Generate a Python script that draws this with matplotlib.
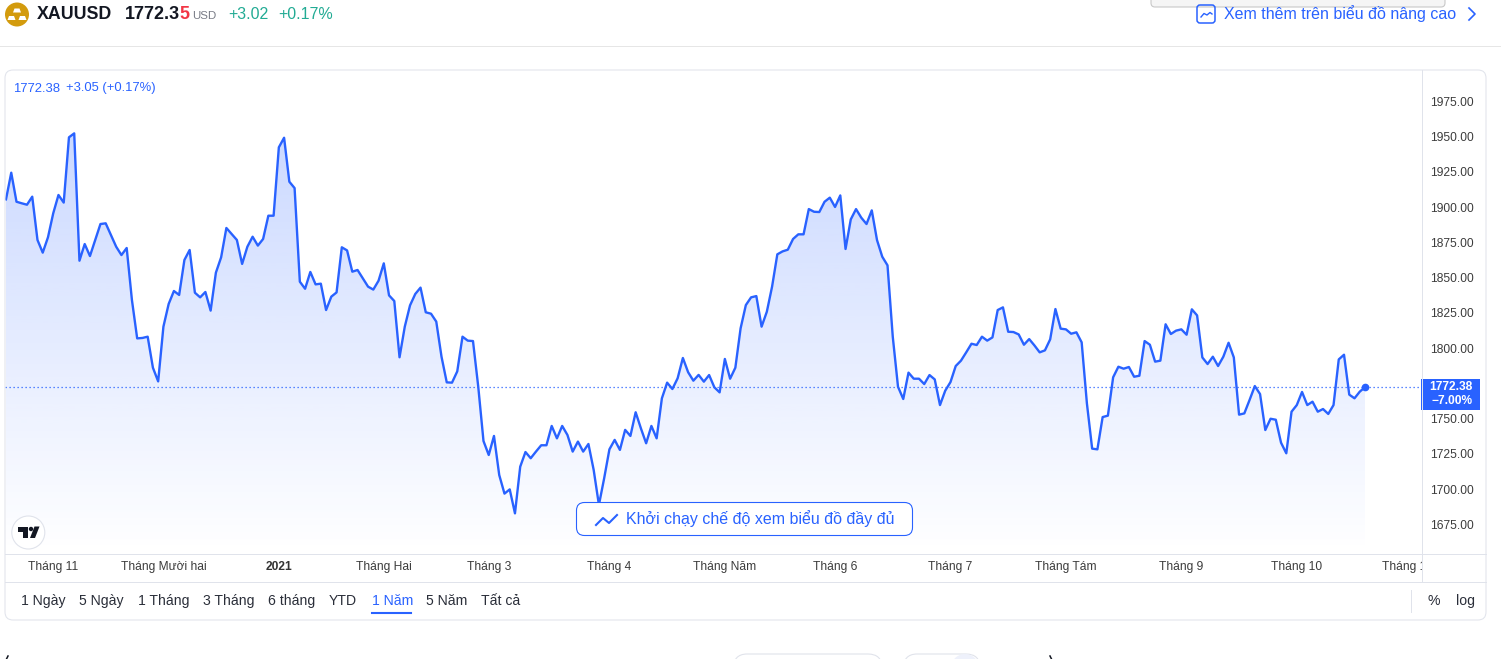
import numpy as np
import matplotlib
matplotlib.use('Agg')
import matplotlib.pyplot as plt
from matplotlib.patches import Circle, FancyBboxPatch, Polygon, Rectangle

plt.rcParams['font.family'] = ['Liberation Sans', 'DejaVu Sans']

# Daily closes of XAUUSD
prices_1 = [1905.6, 1924.5, 1903.9, 1902.8, 1901.8, 1907.5, 1876.8, 1867.8, 1878.7, 1895.7, 1908.7, 1903.3,
            1949.6, 1952.4, 1862.1, 1873.9, 1865.4, 1876.8, 1888.1, 1888.6, 1880.3, 1872.0, 1866.1, 1871.1,
            1834.2, 1807.0, 1807.3, 1808.2, 1786.2, 1776.5, 1815.3, 1831.4, 1840.6, 1837.8, 1862.6, 1869.7,
            1839.4, 1836.1, 1839.9, 1826.7, 1853.6, 1864.5, 1885.3, 1881.0, 1876.8, 1859.8, 1872.0, 1879.1,
            1872.8, 1877.5, 1894.0, 1894.0, 1942.5, 1949.3, 1918.1, 1913.6, 1847.2, 1842.2, 1854.1, 1845.3,
            1845.8, 1827.1, 1836.6, 1839.6, 1871.6, 1869.4]
prices_2 = [1854.3, 1855.5, 1849.6, 1843.7, 1841.6, 1847.9, 1860.2, 1837.5, 1833.5, 1793.6, 1815.3, 1830.4,
            1838.5, 1843.0, 1825.5, 1824.5, 1818.9, 1794.0, 1775.8, 1775.6, 1783.6, 1808.2, 1805.4, 1805.1,
            1772.8, 1734.2, 1724.3, 1737.8, 1710.1, 1696.9, 1699.9, 1682.9, 1716.0, 1726.4, 1722.0, 1726.7,
            1731.2, 1731.2, 1744.9, 1736.1, 1744.9, 1738.5, 1726.7, 1733.8, 1726.7, 1732.1, 1713.7, 1688.9,
            1707.8, 1728.3, 1735.0, 1727.9, 1742.1, 1737.8, 1754.6, 1743.2, 1732.6, 1744.9, 1736.1, 1764.5,
            1775.6, 1771.1, 1778.7, 1793.1, 1783.0, 1777.0, 1781.1]
prices_3 = [1776.3, 1781.0, 1772.3, 1768.7, 1792.4, 1778.4, 1786.2, 1814.1, 1830.6, 1836.1, 1837.0, 1815.3,
            1825.9, 1843.7, 1866.6, 1868.7, 1869.9, 1877.5, 1880.8, 1880.8, 1898.7, 1896.8, 1896.6, 1903.9,
            1906.8, 1900.2, 1908.4, 1870.4, 1891.4, 1898.7, 1892.6, 1888.1, 1897.8, 1876.7, 1864.9, 1858.8,
            1808.2, 1772.7, 1764.0, 1782.7, 1778.4, 1778.4, 1774.6, 1781.0, 1777.9, 1759.7, 1769.9, 1776.0,
            1787.4, 1791.2, 1797.1, 1803.2, 1802.3, 1808.2, 1805.4, 1807.7, 1827.1, 1829.0, 1811.7, 1811.5,
            1809.8, 1802.5, 1806.5, 1802.0, 1797.1, 1798.5, 1806.3]
prices_4 = [1827.8, 1813.9, 1813.4, 1810.3, 1811.3, 1804.2, 1760.9, 1728.8, 1728.3, 1751.2, 1752.2, 1779.4,
            1786.9, 1785.5, 1786.7, 1779.8, 1780.5, 1805.1, 1802.5, 1790.5, 1791.2, 1817.0, 1810.1, 1812.5,
            1813.4, 1809.6, 1827.6, 1823.3, 1793.5, 1788.8, 1794.0, 1787.4, 1794.0, 1803.9, 1793.5, 1752.9,
            1753.8, 1763.3, 1773.2, 1767.5, 1742.0, 1750.0, 1749.3, 1733.0, 1725.5, 1755.0, 1759.7, 1769.0,
            1759.7, 1762.1, 1755.0, 1756.9, 1753.4, 1759.7, 1792.1, 1795.4, 1767.1, 1764.5, 1769.2, 1772.38]
prices = np.array(prices_1 + prices_2 + prices_3 + prices_4)
days = np.arange(len(prices))

price_ticks = [1975, 1950, 1925, 1900, 1875, 1850, 1825, 1800, 1750, 1725, 1700, 1675]
month_days = [9, 30, 52, 72, 92, 115, 137, 158, 180, 202, 224, 246, 267]
month_labels = ['Tháng 11', 'Tháng Mười hai', '2021', 'Tháng Hai', 'Tháng 3', 'Tháng 4', 'Tháng Năm',
                'Tháng 6', 'Tháng 7', 'Tháng Tám', 'Tháng 9', 'Tháng 10', 'Tháng 11']
range_labels = ['1 Ngày', '5 Ngày', '1 Tháng', '3 Tháng', '6 tháng', 'YTD', '1 Năm', '5 Năm', 'Tất cả']
range_x = [21, 79, 138, 203, 268, 329, 372, 426, 481]

BLUE = '#2962ff'
BORDER = '#e0e3eb'
W, H = 1501, 659


def px(size):
    # font size from css pixels
    return size * 0.72


fig = plt.figure(figsize=(W / 100, H / 100), dpi=100, facecolor='white')

# Chart area
ax = fig.add_axes([5 / W, (H - 553) / H, 1416 / W, 483 / H])
step = (1365 - 6) / (len(prices) - 1)
y_top = 1975 + (101.5 - 70) / 1.41
y_bot = 1975 - (553 - 101.5) / 1.41
poly = ax.fill_between(days, prices, y_bot, facecolor='none', edgecolor='none')
gradient = np.zeros((256, 1, 4))
gradient[:, 0, :3] = matplotlib.colors.to_rgb(BLUE)
gradient[:, 0, 3] = np.linspace(0.25, 0, 256)
im = ax.imshow(gradient, extent=[0, days[-1], y_bot, 1960], aspect='auto', interpolation='bilinear', zorder=1)
im.set_clip_path(poly.get_paths()[0], transform=ax.transData)
ax.axhline(prices[-1], color=BLUE, lw=0.9, ls=(0, (1, 2.2)), zorder=2)
ax.plot(days, prices, color=BLUE, lw=1.7, zorder=3, solid_joinstyle='round')
ax.plot(days[-1], prices[-1], 'o', color=BLUE, ms=4.5, zorder=4)
ax.set_xlim(-1 / step, (1421 - 6) / step)
ax.set_ylim(y_bot, y_top)

ax.yaxis.tick_right()
ax.set_yticks(price_ticks)
ax.set_yticklabels([f'{p:.2f}' for p in price_ticks])
ax.tick_params(axis='y', length=0, pad=6.8, labelsize=px(12), labelcolor='#3c3c3c')
ax.set_xticks(month_days)
ax.set_xticklabels(month_labels)
ax.tick_params(axis='x', length=0, pad=5.5, labelsize=px(12), labelcolor='#3c3c3c')
ax.get_xticklabels()[2].set_fontweight('bold')
ax.get_xticklabels()[2].set_color('#333333')
for side in ax.spines:
    ax.spines[side].set_visible(False)

# Page furniture, in pixel coordinates
ui = fig.add_axes([0, 0, 1, 1], facecolor='none')
ui.set_xlim(0, W)
ui.set_ylim(H, 0)
ui.axis('off')

ui.add_patch(Rectangle((1421.5, 554), 60, 27, fc='white', ec='none'))
ui.add_patch(FancyBboxPatch((5, 70), 1481, 550, boxstyle='round,pad=0,rounding_size=8', fc='none', ec=BORDER, lw=0.72))
ui.plot([0, W], [45.5, 45.5], color='#e6e6e6', lw=0.72)
ui.plot([5, 1486], [553.5, 553.5], color=BORDER, lw=0.72)
ui.plot([5, 1486], [581.5, 581.5], color=BORDER, lw=0.72)
ui.plot([1421.5, 1421.5], [70, 581], color=BORDER, lw=0.72)
ui.plot([1410.5, 1410.5], [590, 612], color=BORDER, lw=0.72)

# Popup cut by the top edge
ui.add_patch(FancyBboxPatch((1151, -20), 294, 27, boxstyle='round,pad=0,rounding_size=4', fc='#f5f5f5', ec='#c8c8c8', lw=0.8))

# Header
ui.add_patch(Circle((17, 14.5), 12, fc='#d39b0d', ec='none'))
for bar_x, bar_y in [(17, 10.5), (11.5, 18), (22.5, 18)]:
    ui.add_patch(Polygon([(bar_x - 2.5, bar_y - 2), (bar_x + 2.5, bar_y - 2), (bar_x + 4, bar_y + 2), (bar_x - 4, bar_y + 2)],
                         fc='white', ec='none'))
ui.text(37, 14.5, 'XAUUSD', fontsize=px(17.8), fontweight='bold', color='#131722', va='center')
ui.text(125, 14.5, '1772.3', fontsize=px(18), fontweight='bold', color='#131722', va='center')
ui.text(179.5, 14.5, '5', fontsize=px(18), fontweight='bold', color='#f23645', va='center')
ui.text(192, 16, 'USD', fontsize=px(11.5), color='#787b86', va='center')
ui.text(228, 14.5, '+3.02', fontsize=px(16), color='#22ab94', va='center')
ui.text(278, 14.5, '+0.17%', fontsize=px(16), color='#22ab94', va='center')

ui.add_patch(FancyBboxPatch((1197, 5), 18, 18, boxstyle='round,pad=0,rounding_size=3', fc='none', ec=BLUE, lw=1.1))
ui.plot([1201, 1204, 1207, 1210, 1212], [17, 13.5, 15, 12.5, 14], color=BLUE, lw=1)
ui.text(1224, 13.5, 'Xem thêm trên biểu đồ nâng cao', fontsize=px(16), color=BLUE, va='center')
ui.plot([1469, 1475, 1469], [8, 14, 20], color=BLUE, lw=1.2)

ui.text(13, 88.5, '1772.38', fontsize=px(13), color=BLUE, va='center')
ui.text(66, 88.5, '+3.05 (+0.17%)', fontsize=px(13), color=BLUE, va='center')

# Last price tag
ui.add_patch(Rectangle((1421, 379), 59, 31, fc=BLUE, ec='none'))
ui.text(1473, 387.5, '1772.38', fontsize=px(12), fontweight='bold', color='white', ha='right', va='center')
ui.text(1431, 401.5, '−7.00%', fontsize=px(12), fontweight='bold', color='white', ha='left', va='center')

# Launch button
ui.add_patch(FancyBboxPatch((576.5, 502.5), 336, 33, boxstyle='round,pad=0,rounding_size=8', fc='white', ec=BLUE, lw=0.8))
ui.plot([596, 603, 609, 617], [525, 518, 523, 515], color=BLUE, lw=1.5)
ui.text(626, 518.5, 'Khởi chạy chế độ xem biểu đồ đầy đủ', fontsize=px(16), color=BLUE, va='center')

# TradingView badge
ui.add_patch(Circle((28.3, 532.5), 16.5, fc='white', ec=BORDER, lw=0.8))
ui.add_patch(Polygon([(18, 526.5), (28, 526.5), (28, 538), (23, 538), (23, 531.5), (18, 531.5)], fc='#131722', ec='none'))
ui.add_patch(Polygon([(30, 538), (34.5, 526.5), (39.5, 526.5), (35, 538)], fc='#131722', ec='none'))
ui.add_patch(Circle((31, 529), 2.2, fc='#131722', ec='none'))

# Range selector
for label, x in zip(range_labels, range_x):
    ui.text(x, 601, label, fontsize=px(14), color=BLUE if label == '1 Năm' else '#2a2e39', va='center')
ui.plot([372, 411], [612.5, 612.5], color=BLUE, lw=1.5)
ui.text(1428, 601, '%', fontsize=px(14), color='#2a2e39', va='center')
ui.text(1456, 601, 'log', fontsize=px(14), color='#2a2e39', va='center')

# Next page section, cut by the bottom edge: only pill tops and accent marks are left
ui.add_patch(FancyBboxPatch((733, 654), 149, 30, boxstyle='round,pad=0,rounding_size=14', fc='none', ec=BORDER, lw=0.8))
ui.add_patch(FancyBboxPatch((903, 654), 77, 30, boxstyle='round,pad=0,rounding_size=14', fc='none', ec=BORDER, lw=0.8))
ui.add_patch(Circle((965, 668), 14, fc='#eef1fb', ec='none'))
ui.plot([6.5, 8], [659, 656], color='#131722', lw=1.1)
ui.plot([1050, 1051.5], [656, 659], color='#131722', lw=1.1)

fig.savefig('out.png', dpi=100)
